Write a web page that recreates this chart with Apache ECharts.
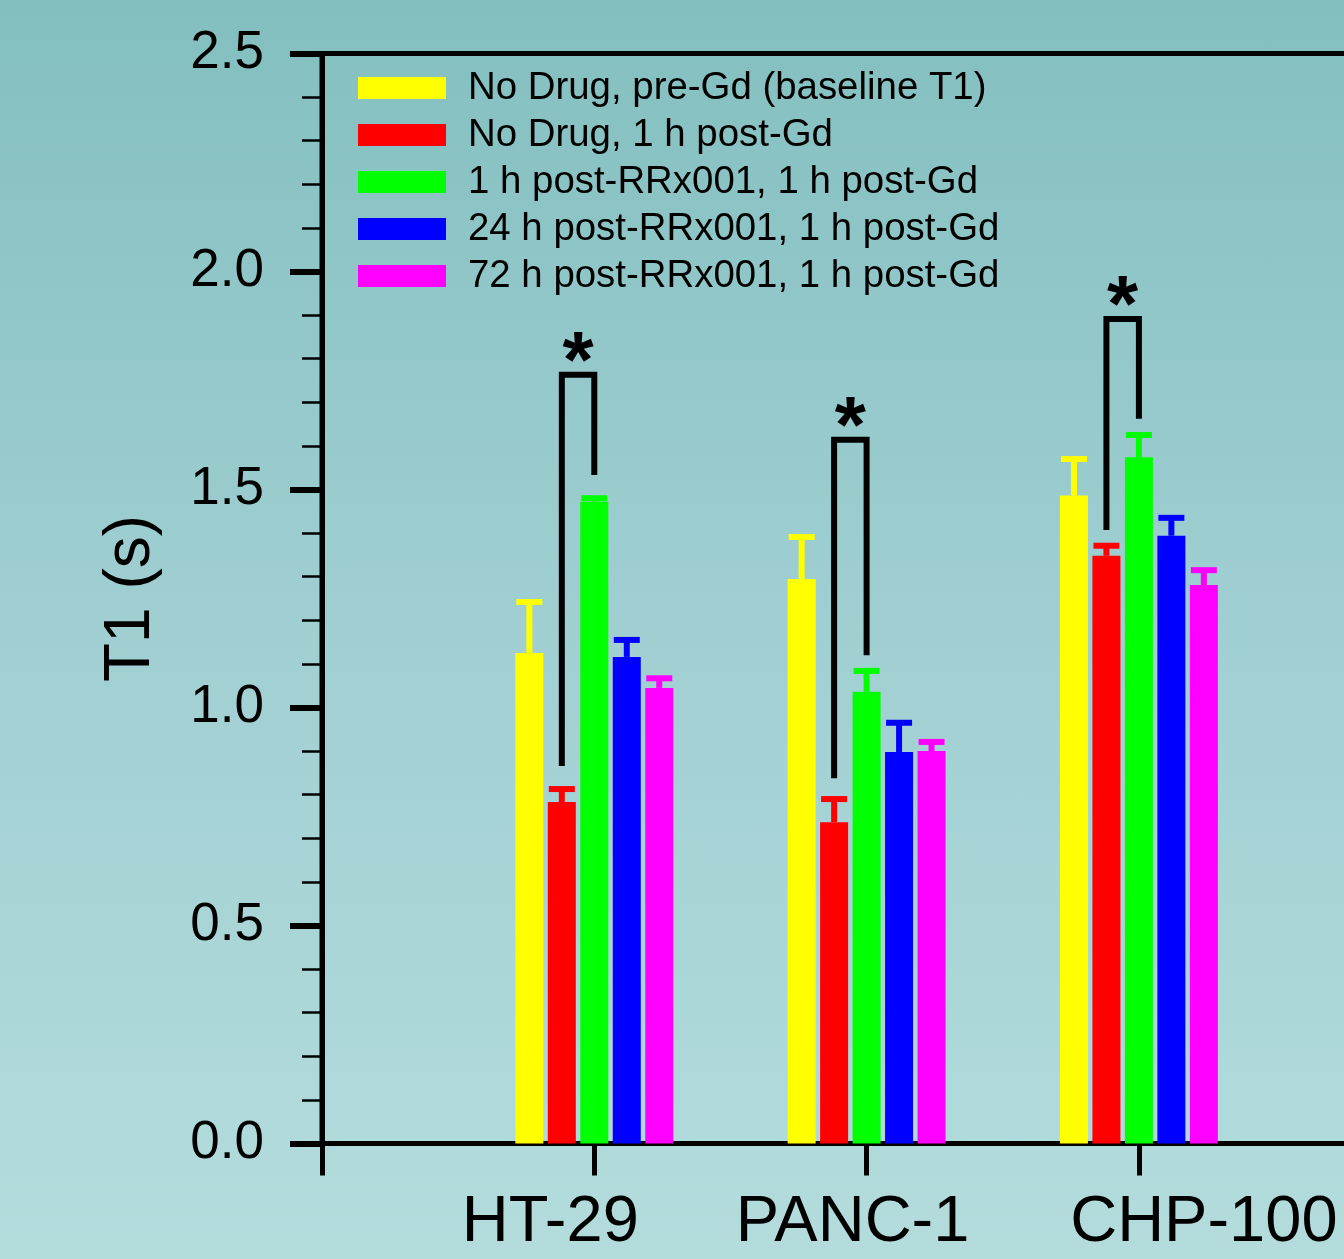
<!DOCTYPE html>
<html>
<head>
<meta charset="utf-8">
<title>T1 by cell line</title>
<script src="https://cdn.jsdelivr.net/npm/echarts@6/dist/echarts.min.js"></script>
<style>
  html, body { margin: 0; padding: 0; }
  /* 背景：上深下浅的青色渐变 */
  #t1Chart {
    width: 1344px;
    height: 1259px;
    background: linear-gradient(to bottom, #83bfbf 0%, #a0cfd2 50%, #b4dcdd 100%);
  }
</style>
</head>
<body>
<div id="t1Chart"></div>
<script>
// 细胞系（两端留空类目，用来放 0 刻度和右侧延伸）
const cellLines = ['HT-29', 'PANC-1', 'CHP-100']
const xCategories = ['', ...cellLines, '']
const yTicks = [0, 0.5, 1.0, 1.5, 2.0, 2.5]

const seriesNames = [
  'No Drug, pre-Gd (baseline T1)',
  'No Drug, 1 h post-Gd',
  '1 h post-RRx001, 1 h post-Gd',
  '24 h post-RRx001, 1 h post-Gd',
  '72 h post-RRx001, 1 h post-Gd'
]
const seriesColors = ['#ffff00', '#ff0000', '#00ff00', '#0000ff', '#ff00ff']

// 平均值 T1 (s)
const noDrugPre = [1.125, 1.295, 1.486]
const noDrugPost = [0.783, 0.737, 1.348]
const rrx1h = [1.472, 1.036, 1.574]
const rrx24h = [1.116, 0.898, 1.394]
const rrx72h = [1.045, 0.900, 1.281]

// 误差（只画向上一半）
const noDrugPreErr = [0.117, 0.096, 0.084]
const noDrugPostErr = [0.030, 0.053, 0.023]
const rrx1hErr = [0.008, 0.048, 0.051]
const rrx24hErr = [0.039, 0.067, 0.041]
const rrx72hErr = [0.022, 0.021, 0.034]

// 显著性括号：红柱起点、顶边、绿柱终点
const sigLeft = [0.866, 0.838, 1.407]
const sigTop = [1.763, 1.614, 1.891]
const sigRight = [1.533, 1.120, 1.662]

const means = [noDrugPre, noDrugPost, rrx1h, rrx24h, rrx72h]
const errs = [noDrugPreErr, noDrugPostErr, rrx1hErr, rrx24hErr, rrx72hErr]

const FONT = "'Liberation Sans', Arial, sans-serif"
const BAR_W = 28
const BAR_GAP = 0.16
const barStep = BAR_W * (1 + BAR_GAP)
const barOffset = (k) => (k - (means.length - 1) / 2) * barStep

// 原图 x 轴文字并不正对刻度，这里用 padding 做水平偏移（像素）
const xLabelShift = [-44, -14, 65]
const xLabelRich = {}
cellLines.forEach((c, i) => {
  const s = xLabelShift[i]
  xLabelRich['c' + i] = {
    fontSize: 65,
    lineHeight: 65,
    color: '#000',
    fontFamily: FONT,
    padding: s < 0 ? [0, -2 * s, 0, 0] : [0, 0, 0, 2 * s]
  }
})

const chart = echarts.init(document.getElementById('t1Chart'), null, { renderer: 'canvas' })

const barSeries = means.map((vals, k) => ({
  name: seriesNames[k],
  type: 'bar',
  data: cellLines.map((c, i) => [c, vals[i]]),
  barWidth: BAR_W,
  barGap: BAR_GAP * 100 + '%',
  itemStyle: { color: seriesColors[k] },
  z: 2
}))

const errSeries = means.map((vals, k) => ({
  name: seriesNames[k] + ' err',
  type: 'custom',
  data: cellLines.map((c, i) => [c, vals[i], errs[k][i]]),
  z: 3,
  renderItem: (params, api) => {
    const base = api.coord([api.value(0), api.value(1)])
    const top = api.coord([api.value(0), api.value(1) + api.value(2)])
    const x = base[0] + barOffset(k)
    const color = seriesColors[k]
    return {
      type: 'group',
      children: [
        { type: 'rect', shape: { x: x - 3, y: top[1], width: 6, height: base[1] - top[1] }, style: { fill: color } },
        { type: 'rect', shape: { x: x - 13, y: top[1] - 3, width: 26, height: 6 }, style: { fill: color } }
      ]
    }
  }
}))

const sigSeries = {
  name: 'significance',
  type: 'custom',
  data: cellLines.map((c, i) => [c, sigLeft[i], sigTop[i], sigRight[i]]),
  z: 4,
  renderItem: (params, api) => {
    const pl = api.coord([api.value(0), api.value(1)])
    const pt = api.coord([api.value(0), api.value(2)])
    const pr = api.coord([api.value(0), api.value(3)])
    const xl = pl[0] + barOffset(1)
    const xr = pl[0] + barOffset(2)
    return {
      type: 'group',
      children: [
        {
          type: 'polyline',
          shape: { points: [[xl, pl[1]], [xl, pt[1]], [xr, pt[1]], [xr, pr[1]]] },
          style: { stroke: '#000', lineWidth: 6, fill: null, lineJoin: 'miter', lineCap: 'butt' }
        },
        {
          type: 'text',
          x: (xl + xr) / 2,
          y: pt[1] - 10,
          style: {
            text: '*',
            fill: '#000',
            font: 'bold 80px ' + FONT,
            align: 'center',
            verticalAlign: 'middle'
          }
        }
      ]
    }
  }
}

const option = {
  animation: false,
  textStyle: { fontFamily: FONT },
  legend: {
    data: seriesNames,
    orient: 'vertical',
    left: 358,
    top: 69,
    padding: 0,
    icon: 'rect',
    itemWidth: 88,
    itemHeight: 22,
    itemGap: 9,
    selectedMode: false,
    textStyle: { fontSize: 38.4, lineHeight: 38, color: '#000', fontFamily: FONT, padding: [0, 0, 0, 17] }
  },
  grid: {
    left: 322,
    top: 53.5,
    width: 1089.2,
    height: 1090,
    outerBoundsMode: 'none',
    show: true,
    borderColor: '#000',
    borderWidth: 5,
    backgroundColor: 'transparent'
  },
  xAxis: {
    type: 'category',
    data: xCategories,
    boundaryGap: false,
    axisLine: { show: true, lineStyle: { color: '#000', width: 5 } },
    axisTick: { show: true, length: 32, interval: 0, lineStyle: { color: '#000', width: 5 } },
    axisLabel: {
      interval: 0,
      fontSize: 65,
      lineHeight: 65,
      color: '#000',
      margin: 47,
      fontFamily: FONT,
      formatter: (v) => {
        const i = cellLines.indexOf(v)
        return i < 0 ? '' : '{c' + i + '|' + v + '}'
      },
      rich: xLabelRich
    },
    splitLine: { show: false }
  },
  yAxis: {
    type: 'value',
    min: yTicks[0],
    max: yTicks[yTicks.length - 1],
    interval: 0.5,
    name: 'T1 (s)',
    nameLocation: 'middle',
    nameGap: 159,
    nameTextStyle: { fontSize: 64, lineHeight: 64, color: '#000', fontFamily: FONT },
    axisLine: { show: true, lineStyle: { color: '#000', width: 5 } },
    axisTick: { show: true, length: 32, lineStyle: { color: '#000', width: 6 } },
    minorTick: { show: true, splitNumber: 5, length: 20, lineStyle: { color: '#000', width: 2.5 } },
    axisLabel: {
      fontSize: 53,
      color: '#000',
      margin: 58,
      fontFamily: FONT,
      formatter: (v) => v.toFixed(1)
    },
    splitLine: { show: false },
    minorSplitLine: { show: false }
  },
  series: [...barSeries, ...errSeries, sigSeries]
}

chart.setOption(option)
</script>
</body>
</html>
